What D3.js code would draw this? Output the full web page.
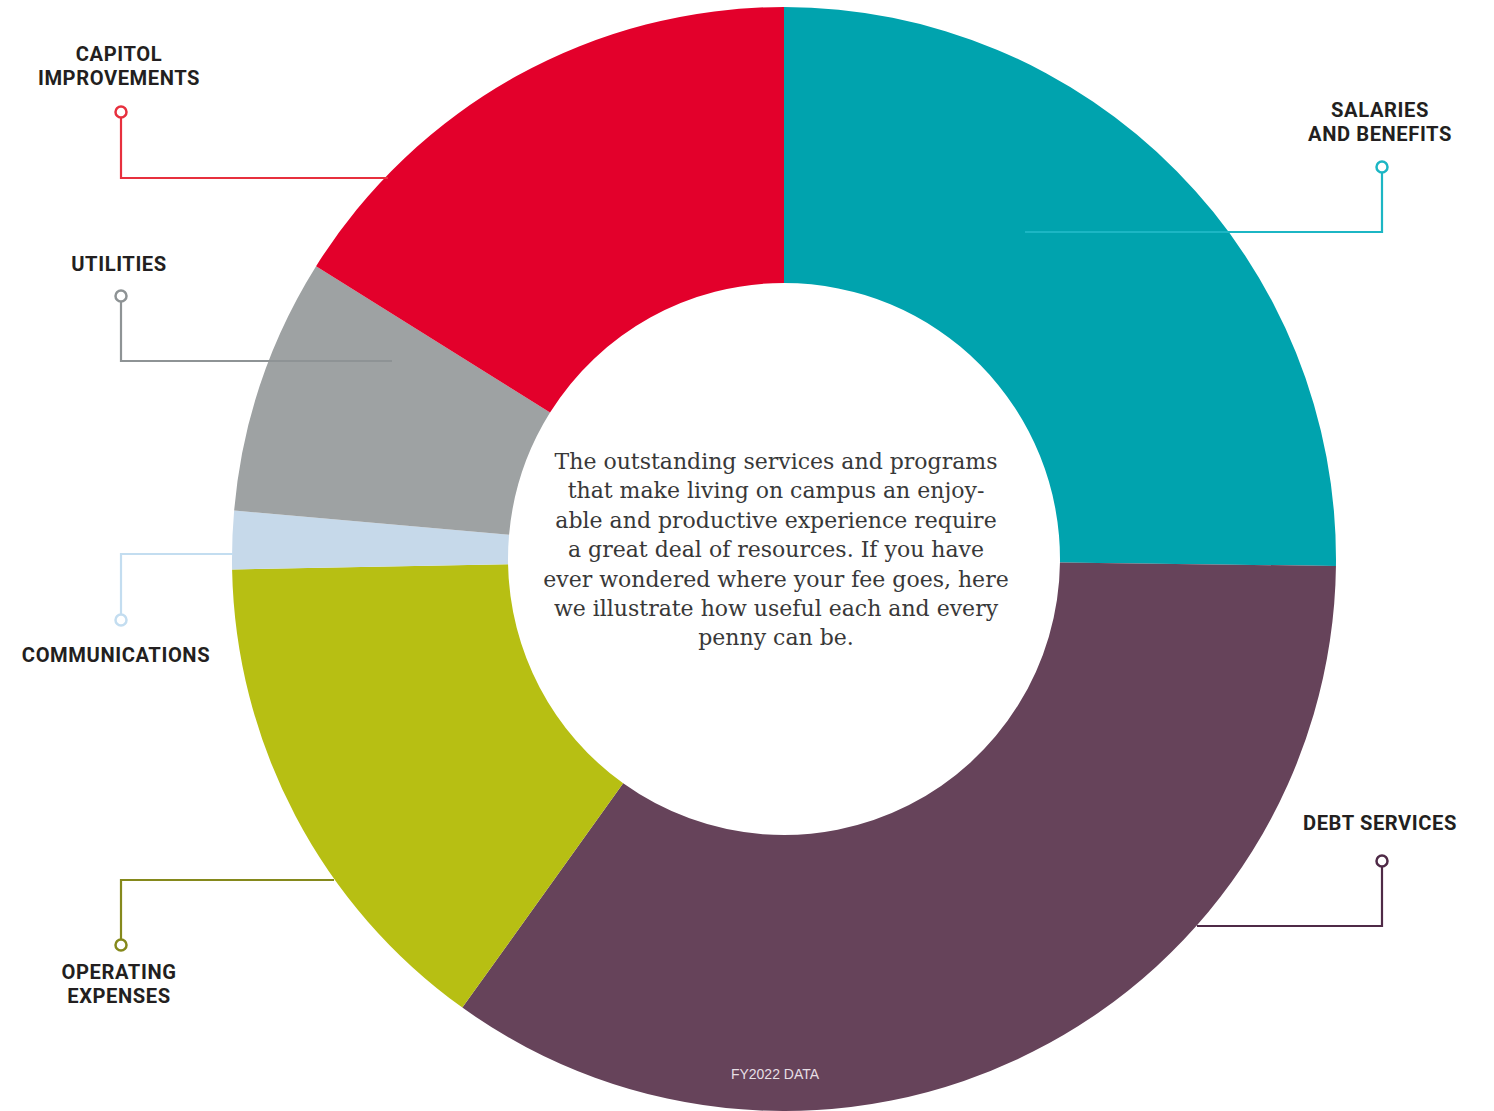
<!DOCTYPE html>
<html>
<head>
<meta charset="utf-8">
<script src="https://cdn.jsdelivr.net/npm/d3@7"></script>
<style>
  html, body { margin: 0; padding: 0; background: #fff; }
  svg { display: block; }
</style>
</head>
<body>
<svg></svg>
<script>
const width = 1494;
const height = 1111;

// budget shares (percent), clockwise from 12 o'clock
const categories = ['Salaries and Benefits', 'Debt Services', 'Operating Expenses', 'Communications', 'Utilities', 'Capitol Improvements'];
const shares = [25.2, 34.7, 14.8, 1.7, 7.5, 16.1];
const labelLines = [['SALARIES', 'AND BENEFITS'], ['DEBT SERVICES'], ['OPERATING', 'EXPENSES'], ['COMMUNICATIONS'], ['UTILITIES'], ['CAPITOL', 'IMPROVEMENTS']];
const sliceColors = ['#00a3ae', '#66435a', '#b7bf13', '#c6d9ea', '#9ea2a3', '#e3002b'];
const lineColors = ['#1cb6c4', '#4f2a47', '#85891c', '#c3ddf0', '#8e9395', '#e7303e'];
const blurb = [
  'The outstanding services and programs',
  'that make living on campus an enjoy-',
  'able and productive experience require',
  'a great deal of resources. If you have',
  'ever wondered where your fee goes, here',
  'we illustrate how useful each and every',
  'penny can be.'
];
const footnote = 'FY2022 DATA';

// leader layout: dot position, elbow y, end x, label centre / first line y
const leaders = [
  {dot: [1382, 167], elbowY: 232, endX: 1025, labelX: 1380, labelY: 117},
  {dot: [1382, 861], elbowY: 926, endX: 1197, labelX: 1380, labelY: 830},
  {dot: [121, 945], elbowY: 880, endX: 334, labelX: 119, labelY: 979},
  {dot: [121, 620], elbowY: 554, endX: 233, labelX: 116, labelY: 662},
  {dot: [121, 296], elbowY: 361, endX: 392, labelX: 119, labelY: 271},
  {dot: [121, 112], elbowY: 178, endX: 388, labelX: 119, labelY: 61}
];

const cx = 784, cy = 559;
const outerR = 552, innerR = 276;

const svg = d3.select('svg')
    .attr('width', width).attr('height', height);

const pie = d3.pie().sort(null).value(d => d);
const arc = d3.arc().innerRadius(innerR).outerRadius(outerR);

const donut = svg.append('g').attr('transform', `translate(${cx},${cy})`);
donut.selectAll('path')
    .data(pie(shares))
    .enter().append('path')
    .attr('d', arc)
    .attr('fill', (d, i) => sliceColors[i]);

// leader lines drawn over the slices
const leaderG = svg.append('g');
leaders.forEach((l, i) => {
    leaderG.append('path')
        .attr('d', `M${l.dot[0]},${l.dot[1]}V${l.elbowY}H${l.endX}`)
        .attr('fill', 'none')
        .attr('stroke', lineColors[i])
        .attr('stroke-width', 2.2);
    leaderG.append('circle')
        .attr('cx', l.dot[0]).attr('cy', l.dot[1])
        .attr('r', 5.5)
        .attr('fill', '#fff')
        .attr('stroke', lineColors[i])
        .attr('stroke-width', 2.5);
});

// category labels
leaders.forEach((l, i) => {
    labelLines[i].forEach((line, j) => {
        svg.append('text')
            .attr('transform', `translate(${l.labelX},${l.labelY + j * 24}) scale(0.96,1)`)
            .attr('text-anchor', 'middle')
            .style('font-family', 'Roboto, "Liberation Sans", sans-serif')
            .style('font-weight', 700)
            .style('font-size', '21px')
            .style('letter-spacing', '0.6px')
            .style('fill', '#231f20')
            .text(line);
    });
});

// centre text
const blurbG = svg.append('g');
blurb.forEach((line, i) => {
    blurbG.append('text')
        .attr('x', cx - 8)
        .attr('y', 469 + i * 29.4)
        .attr('text-anchor', 'middle')
        .style('font-family', '"DejaVu Serif", serif')
        .style('font-size', '22px')
        .style('fill', '#383838')
        .text(line);
});

svg.append('text')
    .attr('x', 775).attr('y', 1079)
    .attr('text-anchor', 'middle')
    .style('font-family', '"Liberation Sans", Arial, sans-serif')
    .style('font-size', '14px')
    .style('fill', '#e6dfe4')
    .text(footnote);
</script>
</body>
</html>
